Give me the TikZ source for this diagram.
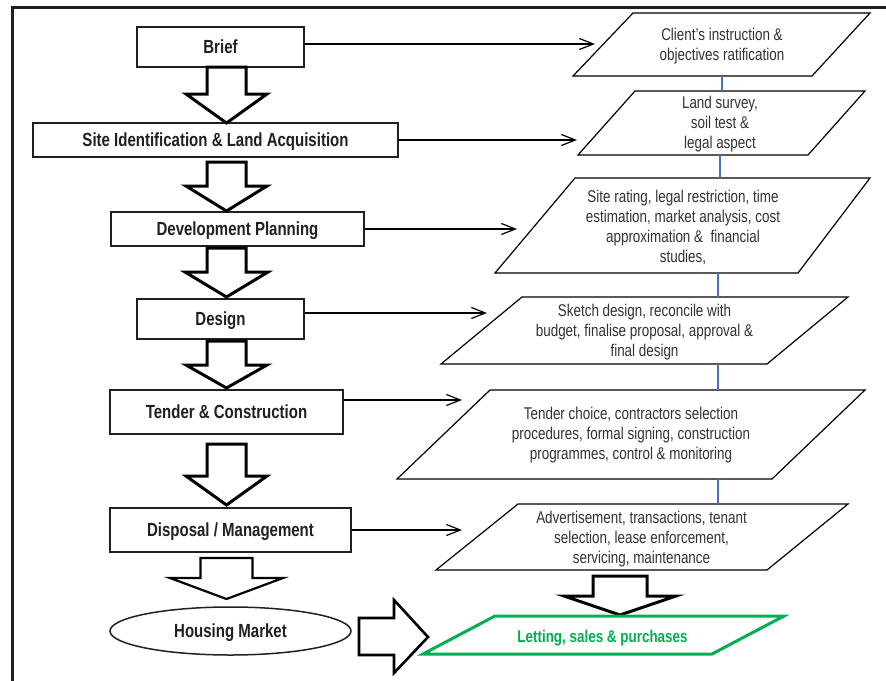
\documentclass[tikz,border=0pt]{standalone}
\usepackage{fontspec}
\setmainfont{Liberation Sans}[FakeStretch=0.79]
\usetikzlibrary{arrows.meta,shapes.geometric}
\definecolor{framegray}{RGB}{35,31,32}
\definecolor{textgray}{RGB}{50,50,50}
\definecolor{linkblue}{RGB}{68,114,196}
\definecolor{lgreen}{RGB}{0,176,80}
\newcommand\blockdn[6]{%
  \draw[blockarrow] (#1-#5,#2) -- (#1+#5,#2) -- (#1+#5,#3) -- (#1+#6,#3) -- (#1,#4) -- (#1-#6,#3) -- (#1-#5,#3) -- cycle;}
\tikzset{
  box/.style={draw=framegray, line width=2pt, rectangle, inner sep=0pt, text=framegray,
    text height=13.5pt, text depth=0pt,
    font=\bfseries\fontsize{19}{22}\selectfont},
  para/.style={draw=black, line width=1.2pt, line join=miter},
  ptext/.style={align=center, inner sep=0pt, text=textgray, font=\fontsize{17}{20}\selectfont},
  blockarrow/.style={draw=black, line width=3pt, fill=white, line join=miter},
  link/.style={draw=black, line width=1.2pt, -{Straight Barb[length=14pt,width=11pt]}},
  vlink/.style={draw=linkblue, line width=1.2pt},
}
\begin{document}
\begin{tikzpicture}[x=1pt,y=-1pt]
\useasboundingbox (0,0) rectangle (886,680);
\fill[white] (0,0) rectangle (886,680);
% frame
\draw[framegray, line width=3pt] (12,690) -- (12,7) -- (890,7);

% left column
\node[box, minimum width=167pt, minimum height=40pt] (brief) at (220.5,47) {Brief};
\node[box, minimum width=365pt, minimum height=34pt] (site) at (215.5,140) {Site Identification \& Land Acquisition};
\node[box, minimum width=253pt, minimum height=34pt] (dev) at (237.5,229) {Development Planning};
\node[box, minimum width=167pt, minimum height=40pt] (design) at (220.5,319) {Design};
\node[box, minimum width=233pt, minimum height=44pt] (tender) at (226.5,412) {Tender \& Construction};
\node[box, minimum width=241pt, minimum height=44pt] (disposal) at (230.5,530) {Disposal / Management};
\node[box, ellipse, line width=1.5pt, text height=12.5pt, minimum width=241pt, minimum height=48pt] (housing) at (230.5,631) {Housing Market};

% block arrows (left column)
\blockdn{226.5}{67}{94}{123}{19.5}{40.5}
\blockdn{226.5}{162}{186}{211}{19.5}{40.5}
\blockdn{226.5}{248}{272}{297}{19.5}{41.5}
\blockdn{226.5}{341}{365}{388}{19.5}{40.5}
\blockdn{226.5}{444}{476}{505}{19.5}{40.5}
\begin{scope}[blockarrow/.append style={line width=2.2pt}]
\blockdn{226.5}{558}{578}{599}{26}{56.5}
\end{scope}
% right column block arrow
\blockdn{620}{576}{596}{615}{27}{56}
% housing -> letting arrow
\draw[blockarrow, line width=2.6pt] (359,618) -- (394,618) -- (394,600) -- (428,637) -- (394,673) -- (394,655) -- (359,655) -- cycle;

% parallelograms
\draw[para] (633,13) -- (870,13) -- (812,76) -- (573,76) -- cycle;
\node[ptext] (p1) at (722,46) {Client's instruction \&\\objectives ratification};
\draw[para] (635,91) -- (865,91) -- (808,155) -- (578,155) -- cycle;
\node[ptext] (p2) at (720,124) {Land survey,\\soil test \&\\legal aspect};
\draw[para] (575,178) -- (870,178) -- (798,273) -- (495,273) -- cycle;
\node[ptext] (p3) at (683,227) {Site rating, legal restriction, time\\estimation, market analysis, cost\\approximation \&\ \ financial\\studies,};
\draw[para] (522,297) -- (848,297) -- (767,364) -- (441,364) -- cycle;
\node[ptext] (p4) at (644.5,332) {Sketch design, reconcile with\\budget, finalise proposal, approval \&\\final design};
\draw[para] (490,390) -- (865,390) -- (772,479) -- (397,479) -- cycle;
\node[ptext] (p5) at (631,435) {Tender choice, contractors selection\\procedures, formal signing, construction\\programmes, control \& monitoring};
\draw[para] (518,504) -- (848,504) -- (767,570) -- (436,570) -- cycle;
\node[ptext] (p6) at (641.5,539) {Advertisement, transactions, tenant\\selection, lease enforcement,\\servicing, maintenance};
\draw[draw=lgreen, line width=3pt, line join=miter] (495,616) -- (784,616) -- (712,654) -- (423,654) -- cycle;
\node[inner sep=0pt, text=lgreen, text height=12pt, text depth=0pt, font=\bfseries\fontsize{17}{20}\selectfont] (p7) at (602.5,636) {Letting, sales \& purchases};

% blue links between parallelograms
\coordinate (b1a) at (722,76); \coordinate (b1b) at (722,91);
\coordinate (b2a) at (720,155); \coordinate (b2b) at (720,178);
\coordinate (b3a) at (718,273); \coordinate (b3b) at (718,297);
\coordinate (b4a) at (718,364); \coordinate (b4b) at (718,390);
\coordinate (b5a) at (718,479); \coordinate (b5b) at (718,504);
\draw[vlink] (b1a) -- (b1b);
\draw[vlink] (b2a) -- (b2b);
\draw[vlink] (b3a) -- (b3b);
\draw[vlink] (b4a) -- (b4b);
\draw[vlink] (b5a) -- (b5b);

% thin arrows
\coordinate (t1) at (595,44);
\coordinate (t2) at (577,140);
\coordinate (t3) at (517,229);
\coordinate (t4) at (487,313);
\coordinate (t5) at (462,400);
\coordinate (t6) at (462,530);
\draw[link] (brief.east |- t1) -- (t1);
\draw[link] (site.east |- t2) -- (t2);
\draw[link] (dev.east |- t3) -- (t3);
\draw[link] (design.east |- t4) -- (t4);
\draw[link] (tender.east |- t5) -- (t5);
\draw[link] (disposal.east |- t6) -- (t6);
\end{tikzpicture}
\end{document}
